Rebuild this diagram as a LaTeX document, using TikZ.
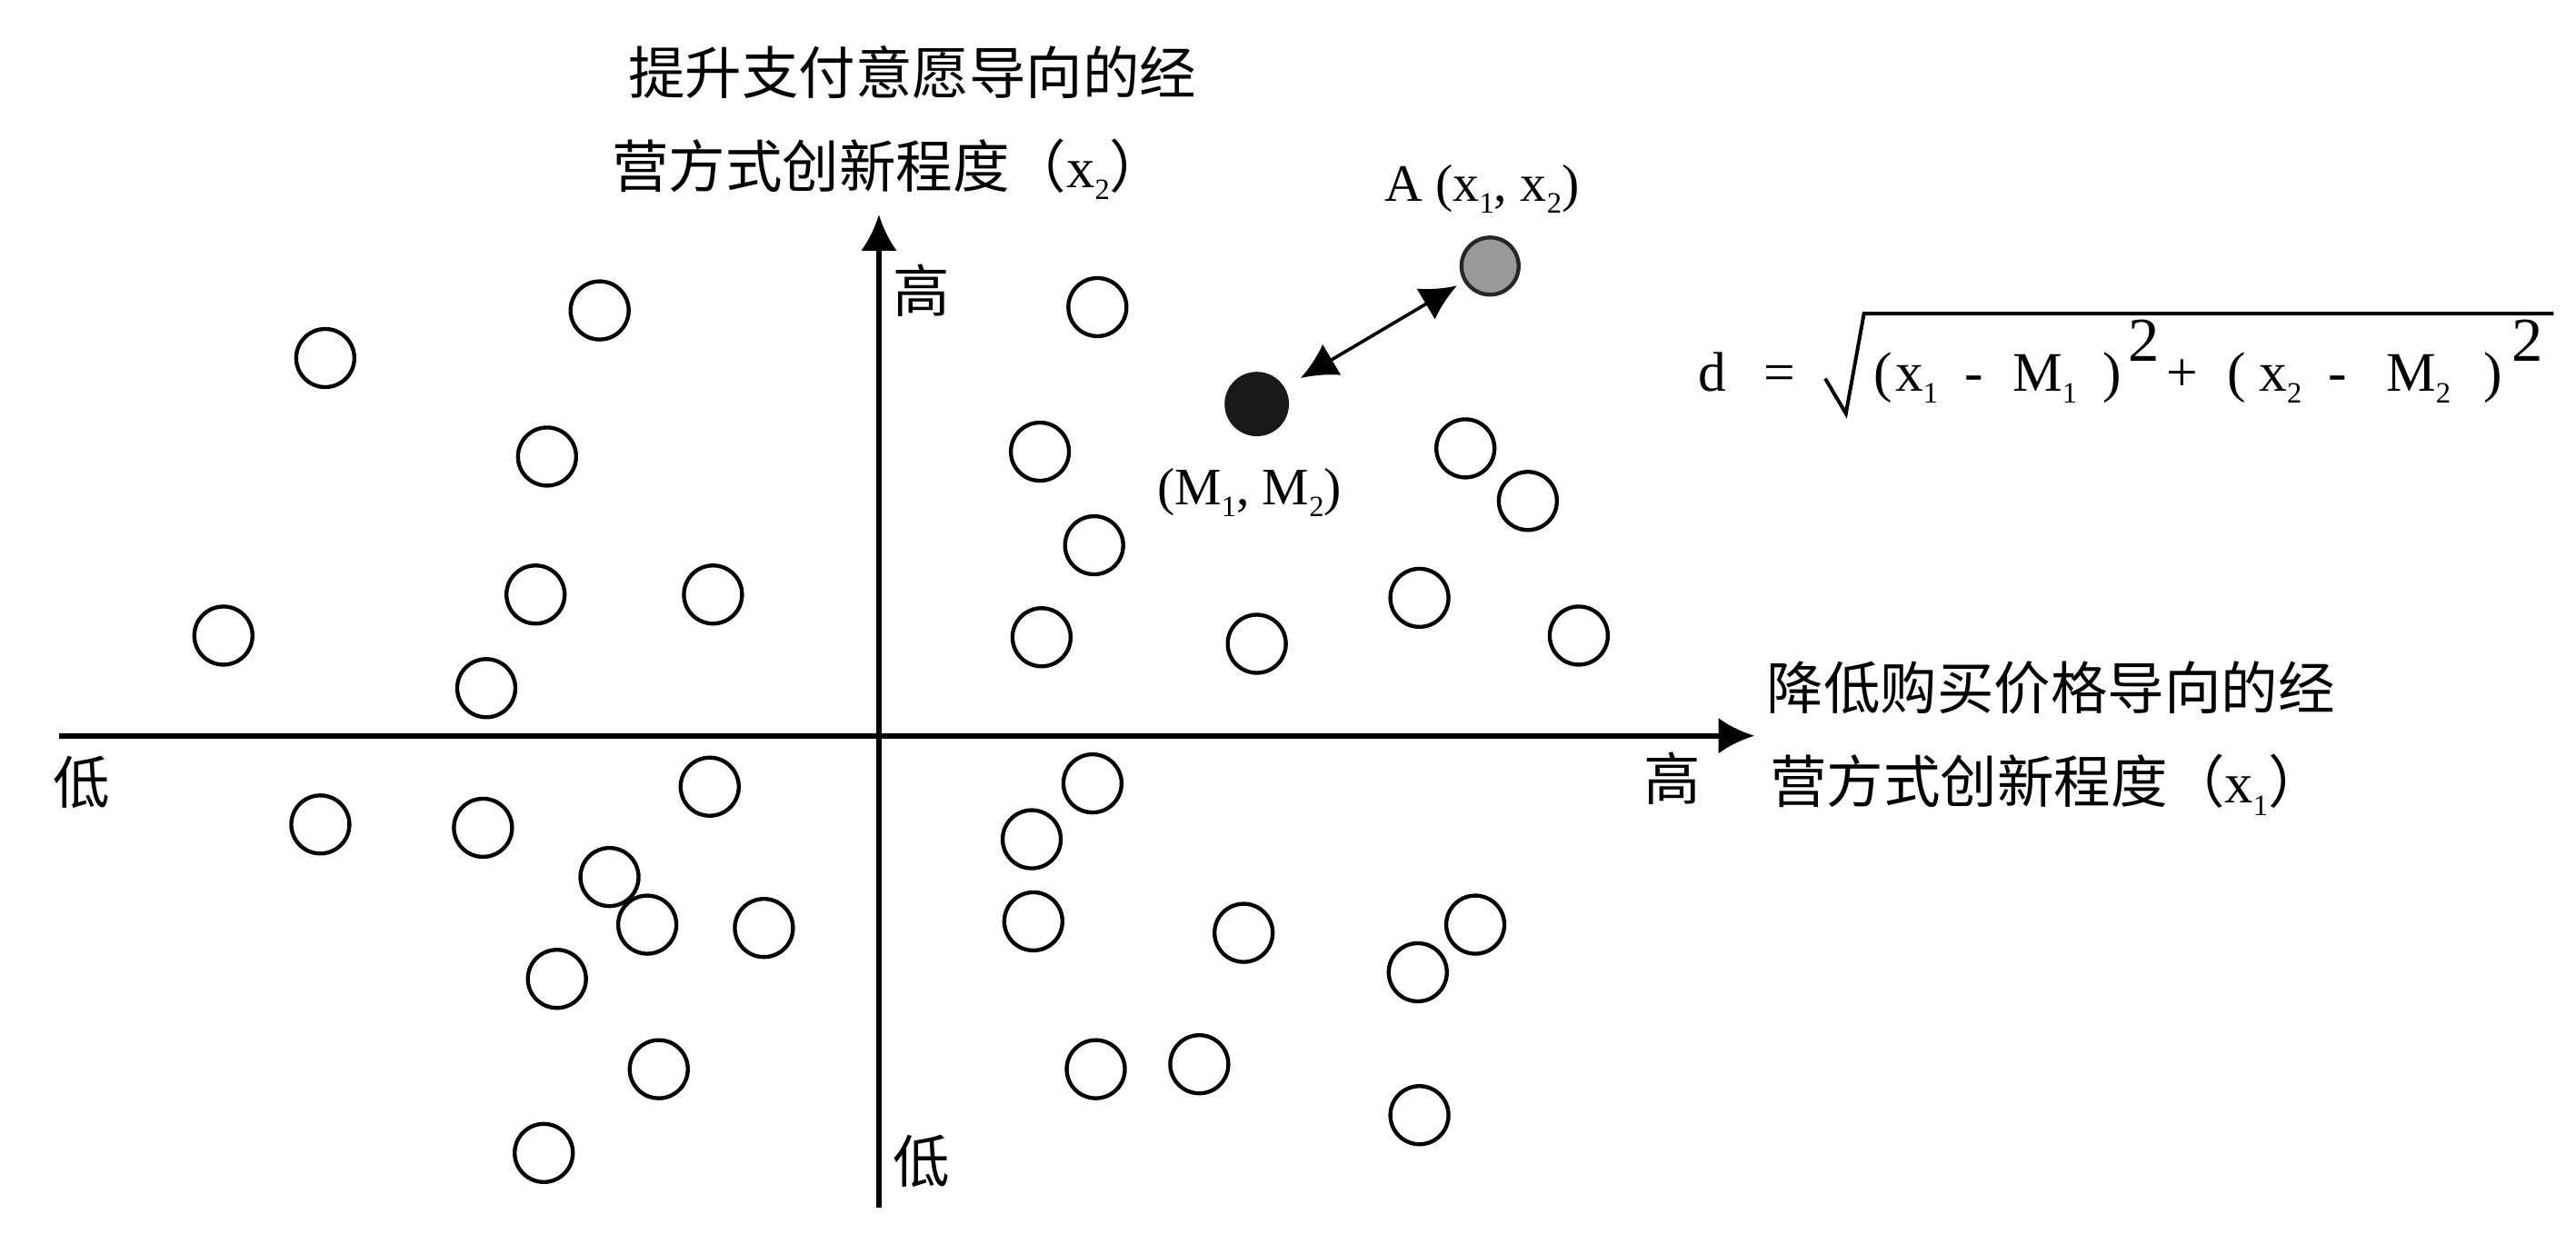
\documentclass[tikz,border=0pt]{standalone}
\usepackage{fontspec}
\setmainfont{Liberation Serif}
\newfontfamily\cjk{Noto Sans CJK SC}
\usetikzlibrary{arrows.meta,scopes}
\newcommand{\lowidx}[1]{\raisebox{-0.22em}{\fontsize{9}{9}\selectfont #1}}
\newcommand{\upidx}[1]{\raisebox{9pt}{\fontsize{19}{19}\selectfont #1}}

\begin{document}
\begin{tikzpicture}[
    x=0.5pt,y=0.5pt,
    >={Latex[length=11pt,width=11pt]},
    axis/.style={line width=1.6pt},
    firm/.style={circle,draw=black,line width=1.2pt,minimum size=17.7pt,inner sep=0pt},
    mean/.style={circle,draw=black!90,fill=black!90,minimum size=19.2pt,inner sep=0pt},
    target/.style={circle,draw=black!85,fill=black!40,line width=1.2pt,minimum size=17.4pt,inner sep=0pt},
    zh/.style={font=\cjk\fontsize{17.3}{20}\selectfont,inner sep=0pt},
    lab/.style={font=\fontsize{16}{19}\selectfont,inner sep=0pt},
    eq/.style={font=\fontsize{17}{20}\selectfont},
    root/.style={line width=1.1pt,line join=miter},
]
    \useasboundingbox (-535,-302.8) rectangle (1033,448);
    \coordinate (xs) at (-499,0);
    \coordinate (xe) at (533,0);
    \coordinate (ys) at (0,-287.3);
    \coordinate (ye) at (0,317.4);
    {[axis,->]
        \draw (xs) -- (xe);
        \draw (ys) -- (ye);
    }
    \node[zh] (hiX) at (483,-26) {高};
    \node[zh] (loX) at (-485.5,-28.5) {低};
    \node[zh] (hiY) at (26,271) {高};
    \node[zh] (loY) at (26,-259) {低};
    \node[zh,anchor=west] (ylab1) at (-153,404) {提升支付意愿导向的经};
    \node[zh,anchor=west] (ylab2) at (-163,345) {营方式创新程度（{\rmfamily x\lowidx{2}}）};
    \node[zh,anchor=west] (xlab1) at (540,29) {降低购买价格导向的经};
    \node[zh,anchor=west] (xlab2) at (542,-30) {营方式创新程度（{\rmfamily x\lowidx{1}}）};

    \foreach \x/\y [count=\i] in {-170/259,-337/230,-202/170,-209/86,-101/86,-399/61,-239/29,
        133/261,98/173,131/116,357/175,395/143,99/60,230/56,329/84,426/61,
        -103/-31,-340/-54,-241/-56,-164/-86,-141/-115,-70/-117,-196/-148,-134/-203,-204/-254,
        130/-29,93/-63,94/-113,222/-120,363/-115,328/-144,132/-203,195/-200,329/-231}
        \node[firm] (c\i) at (\x,\y) {};

    \node[mean] (M) at (230,202) {};
    \node[target] (A) at (372,286) {};
    \draw[<->,line width=1pt,shorten <=5.7pt,shorten >=2.4pt] (M) -- (A);
    \node[lab] (Alab) at (367,333) {A (x\lowidx{1}, x\lowidx{2})};
    \node[lab] (Mlab) at (225.5,148) {(M\lowidx{1}, M\lowidx{2})};

    \node[eq,anchor=base] (fd) at (507.5,210) {d};
    \node[eq,anchor=base] (feq) at (548,210) {=};
    \node[eq,anchor=base west,inner sep=0pt] (frad) at (605,210)
        {(\hspace{1pt}x\lowidx{1}\hspace{8pt}-\hspace{9pt}M\lowidx{1}\hspace{8pt})\hspace{2pt}\upidx{2}\hspace{2pt}+\hspace{9pt}(\hspace{4pt}x\lowidx{2}\hspace{8pt}-\hspace{12pt}M\lowidx{2}\hspace{10pt})\hspace{3pt}\upidx{2}};
    \draw[root] ([shift={(-29,7.5)}]frad.base west) -- ++(12.6,-21.3) -- ++(11,60.9) coordinate (rt)
        -- ([xshift=3pt]rt -| frad.east);
\end{tikzpicture}
\end{document}
